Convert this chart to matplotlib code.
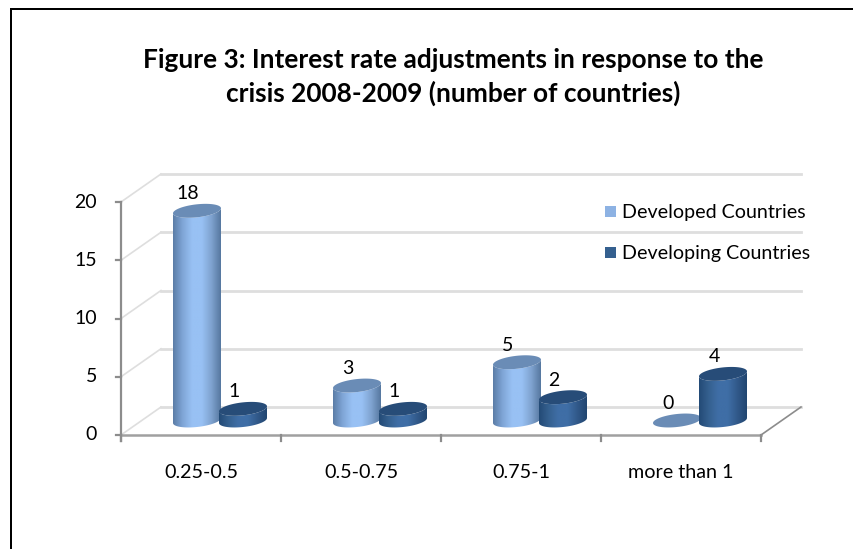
import numpy as np
import matplotlib
matplotlib.use("Agg")
import matplotlib.pyplot as plt
from matplotlib.colors import LinearSegmentedColormap
from matplotlib.patches import Polygon, Rectangle

# ============================
# Data
# ============================

title = "Figure 3: Interest rate adjustments in response to the\ncrisis 2008-2009 (number of countries)"
categories = ["0.25-0.5", "0.5-0.75", "0.75-1", "more than 1"]
developed = [18, 3, 5, 0]
developing = [1, 1, 2, 4]
y_ticks = [0, 5, 10, 15, 20]

W, H = 854, 549
plt.rcParams["font.family"] = ["Lato", "DejaVu Sans"]

fig = plt.figure(figsize=(W / 100, H / 100), dpi=100, facecolor="white")
ax = fig.add_axes([121 / W, 1 - 435 / H, 640 / W, 233 / H])
ax.set_xlim(0, 4)
ax.set_ylim(0, 20)
ax.axis("off")

px = 4 / 640  # x units per pixel
py = 20 / 233  # y units per pixel

# depth of the fake 3d box
dx = 40 * px
dy = 28 * py

# ============================
# Walls and axes
# ============================

grid_c = "#dedede"
for t in y_ticks:
    ax.plot([0, dx], [t, t + dy], color=grid_c, lw=1.2, clip_on=False, zorder=1)
    ax.plot([dx, 4 + dx], [t + dy, t + dy], color=grid_c, lw=2.0, clip_on=False, zorder=1)
    ax.plot([-5 * px, 0], [t, t], color="#8c8c8c", lw=1.6, clip_on=False, zorder=2)
    ax.text(-24 * px, t, str(t), ha="right", va="center", fontsize=14, color="black")

ax.plot([0, 0], [-6 * py, 20], color="#8c8c8c", lw=1.6, clip_on=False, zorder=2)
ax.plot([0, 4], [0, 0], color="#a0a0a0", lw=1.8, clip_on=False, zorder=2)
ax.plot([4, 4 + dx], [0, dy], color="#8c8c8c", lw=1.2, clip_on=False, zorder=2)
for i in range(5):
    ax.plot([i, i], [-6 * py, 0], color="#8c8c8c", lw=1.6, clip_on=False, zorder=2)
for i, c in enumerate(categories):
    ax.text(i + 0.5, -38 * py, c, ha="center", va="center", fontsize=14.2, color="black")

# ============================
# Cylinders
# ============================

dev_cmap = LinearSegmentedColormap.from_list(
    "dev", ["#5b7da6", "#7fa5d6", "#98c1f4", "#98c1f4", "#7fa3d0", "#56779f"])
ing_cmap = LinearSegmentedColormap.from_list(
    "ing", ["#234a76", "#35608f", "#3f6ea6", "#3f6ea6", "#31598a", "#214670"])
dev_top = "#6a8cb6"
ing_top = "#274c78"

half_w = 24 * px
ry = 6.5 * py
tilt = 2.5 * py
base = 14.5 * py
grad = np.linspace(0, 1, 256).reshape(1, -1)


def cylinder(center, value, cmap, top_color, z):
    t = np.linspace(0, 2 * np.pi, 90)
    ex = center + half_w * np.cos(t)
    ey = ry * np.sin(t) + tilt * np.cos(t)
    top = base + value
    if value > 0:
        lo = np.linspace(np.pi, 2 * np.pi, 45)
        bx = center + half_w * np.cos(lo)
        by = base + ry * np.sin(lo) + tilt * np.cos(lo)
        side = np.column_stack([
            np.r_[bx, bx[::-1]],
            np.r_[by, top + (by - base)[::-1]],
        ])
        clip = Polygon(side, closed=True, transform=ax.transData, fc="none", ec="none")
        ax.add_patch(clip)
        im = ax.imshow(grad, cmap=cmap, aspect="auto", zorder=z,
                       extent=[center - half_w, center + half_w, base - ry - tilt, top + ry],
                       interpolation="bilinear")
        im.set_clip_path(clip)
    ax.add_patch(Polygon(np.column_stack([ex, top + ey]), closed=True, fc=top_color,
                         ec="none", zorder=z + 0.1, clip_on=False))
    return top


for i in range(len(categories)):
    a = cylinder(i + 0.475, developed[i], dev_cmap, dev_top, 3 + i)
    ax.text(i + 0.475 - 9 * px, a + 17 * py, str(developed[i]), ha="center", va="center",
            fontsize=14, color="black", zorder=10)
    b = cylinder(i + 0.7625, developing[i], ing_cmap, ing_top, 3.5 + i)
    ax.text(i + 0.7625 - 9 * px, b + 17 * py, str(developing[i]), ha="center", va="center",
            fontsize=14, color="black", zorder=10)

ax.set_xlim(0, 4)
ax.set_ylim(0, 20)

# ============================
# Legend, title, frame
# ============================

fig.text(622 / W, 1 - 212 / H, "Developed Countries", fontsize=14.1, ha="left", va="center",
         color="black")
fig.text(622 / W, 1 - 253 / H, "Developing Countries", fontsize=14.1, ha="left", va="center",
         color="black")

fig.text(453 / W, 1 - 77 / H, title, fontsize=18.9, fontweight="bold", ha="center",
         va="center", color="black", linespacing=1.42)

frame = fig.add_axes([0, 0, 1, 1], facecolor="none")
frame.set_xlim(0, W)
frame.set_ylim(H, 0)
frame.axis("off")
frame.add_patch(Rectangle((605, 206), 11, 11, fc="#8db2e3", ec="none"))
frame.add_patch(Rectangle((605, 247), 11, 11, fc="#35608f", ec="none"))
frame.plot([11, 11, 854], [549, 9, 9], color="black", lw=1.44, solid_joinstyle="miter")

fig.savefig("out.png", dpi=100)
plt.close()
